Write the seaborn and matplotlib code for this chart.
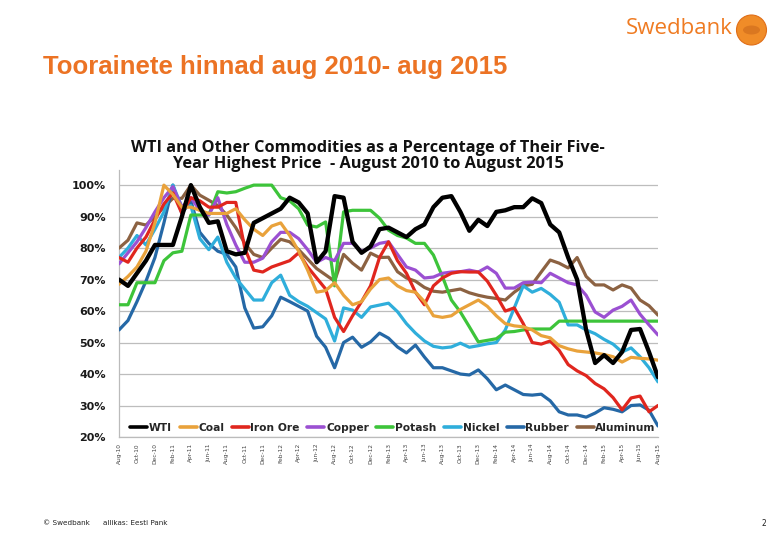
import numpy as np
import pandas as pd
import matplotlib
matplotlib.use("Agg")
import matplotlib.pyplot as plt
import seaborn as sns
from matplotlib.patches import Circle, Ellipse
from matplotlib.lines import Line2D

# ---------------- data (percent of five-year high, monthly Aug-10 .. Aug-15) ----------------
series_names = ["WTI", "Coal", "Iron Ore", "Copper", "Potash", "Nickel", "Rubber", "Aluminum"]

wti = [70, 68, 72, 76, 81, 81, 81, 90, 100, 93,
       88, 88.5, 79, 78, 78.5, 88, 89.5, 91, 92.5, 96,
       94.5, 91, 75.5, 79, 96.5, 96, 82, 78.5, 80.5, 86,
       86.5, 85, 83.5, 86, 87.5, 93, 96, 96.5, 91.5, 85.5,
       89, 87, 91.5, 92, 93, 93, 95.8, 94.3, 87.5, 85,
       77, 70, 54, 43.5, 46, 43.5, 47, 54, 54.3, 47,
       39]
coal = [68.5, 71, 74, 79, 88, 100, 97, 93, 93, 92,
        91, 91, 91, 92.5, 89, 86, 84, 87, 88, 84,
        79, 73, 66, 66.5, 69, 65, 62, 63, 67, 70,
        70.5, 68, 66.5, 66, 63, 58.5, 58, 58.5, 60.5, 62,
        63.5, 61.5, 58.5, 56, 55.3, 55, 54, 52.2, 51.5, 49,
        48, 47.3, 47, 46.7, 46.2, 45.5, 43.8, 45.3, 45, 44.8,
        44.4]
iron_ore = [77, 75.5, 80, 83.5, 89, 94, 97.5, 91, 96, 95,
            93, 93, 94.5, 94.5, 80, 73, 72.4, 74, 75, 76,
            78.5, 74, 70.5, 67, 58, 53.5, 58.5, 63, 68, 77,
            82, 76, 72, 66, 62, 68, 70.5, 72, 72.5, 72.4,
            72.4, 69.5, 65, 60, 61, 56, 50, 49.5, 50.5, 47.5,
            43, 41, 39.5, 37, 35.3, 32.5, 28.6, 32.4, 33, 28,
            30]
copper = [75, 78.5, 82, 86.5, 91.5, 96, 99.5, 93, 96, 92,
          90.5, 96, 87.5, 81, 75.5, 75.5, 76.8, 82, 85, 85,
          83, 79.5, 75.5, 77, 76, 81.5, 81.5, 79, 80, 81.5,
          82, 78, 74, 73, 70.5, 70.8, 72, 72.4, 72.5, 73,
          72.4, 74, 72, 67.3, 67.3, 69, 69.2, 69, 72, 70.5,
          69, 68.3, 65, 59.7, 58, 60.3, 61.5, 63.5, 59, 55.6,
          52.4]
potash = [62, 62, 69, 69, 69, 76, 78.5, 79, 90.5, 90.5,
          90.5, 97.9, 97.5, 97.9, 99, 100, 100, 100, 96, 95,
          92.5, 87.3, 86.7, 88.3, 68, 91.5, 92, 92, 92, 89.5,
          85.7, 84, 83.2, 81.5, 81.5, 77.8, 71, 63.5, 59.7, 55,
          50.2, 50.7, 51.2, 53.3, 53.5, 54, 54.3, 54.3, 54.3, 56.8,
          56.8, 56.8, 56.8, 56.8, 56.8, 56.8, 56.8, 56.8, 56.8, 56.8,
          56.8]
nickel = [77, 80, 84, 81, 86, 91.5, 100, 93, 93.5, 83,
          79.5, 83.5, 75.5, 70.5, 67, 63.5, 63.5, 69, 71.4, 65,
          63, 61.5, 59.5, 57.5, 50.5, 61, 60.3, 58, 61.3, 61.9,
          62.5, 59.8, 56, 53, 50.5, 48.8, 48.3, 48.6, 49.8, 48.5,
          49, 49.6, 50, 54, 61, 68, 66, 67.2, 65.3, 62.8,
          55.6, 55.6, 54, 52.8, 51, 49.5, 47, 48.3, 45.5, 42,
          37.5]
rubber = [54, 57, 63, 69.5, 77, 88, 100, 91, 95, 85,
          81.5, 79, 78, 74, 61, 54.6, 55, 58.5, 64.4, 63,
          61.5, 60, 52, 48.5, 42, 50, 51.7, 48.5, 50.2, 53,
          51.4, 48.6, 46.7, 49.2, 45.4, 42, 42, 41, 40, 39.7,
          41.3, 38.5, 35, 36.5, 35, 33.5, 33.3, 33.6, 31.5, 28,
          27, 27, 26.3, 27.6, 29.3, 28.8, 28, 30, 30.2, 28.5,
          23.5]
aluminum = [80, 82.5, 88, 87.3, 90, 93, 95.8, 95.8, 100, 96.8,
            95.2, 93.5, 90.5, 86.5, 81.5, 78, 77, 80, 82.8, 82,
            79.5, 76.5, 73.5, 71.5, 69.5, 78, 75.2, 73, 78.4, 77,
            77.1, 72.5, 70.5, 69.5, 67.5, 66.3, 66, 66.5, 67, 65.8,
            65, 64.4, 64, 63.5, 66, 68, 68.5, 72.4, 76.2, 75.2,
            73.7, 77, 71, 68.3, 68.3, 66.7, 68.3, 67.3, 63.5, 61.7,
            58.7]

tick_labels = ["Aug-10", "Oct-10", "Dec-10", "Feb-11", "Apr-11", "Jun-11", "Aug-11", "Oct-11",
               "Dec-11", "Feb-12", "Apr-12", "Jun-12", "Aug-12", "Oct-12", "Dec-12", "Feb-13",
               "Apr-13", "Jun-13", "Aug-13", "Oct-13", "Dec-13", "Feb-14", "Apr-14", "Jun-14",
               "Aug-14", "Oct-14", "Dec-14", "Feb-15", "Apr-15", "Jun-15", "Aug-15"]
y_ticks = [20, 30, 40, 50, 60, 70, 80, 90, 100]

values = [wti, coal, iron_ore, copper, potash, nickel, rubber, aluminum]
months = np.arange(len(wti))

palette = {"WTI": "#000000", "Coal": "#E9A23B", "Iron Ore": "#E0261E", "Copper": "#9B50D2",
           "Potash": "#3DC43A", "Nickel": "#2FAEDB", "Rubber": "#2568A6", "Aluminum": "#8C6242"}

df = pd.DataFrame({
    "month": np.tile(months, len(series_names)),
    "value": np.concatenate(values),
    "series": np.repeat(series_names, len(months)),
})

# ---------------- figure ----------------
sns.set_style("white")
plt.rcParams["font.family"] = ["DejaVu Sans"]

W, H = 780, 540
fig = plt.figure(figsize=(W / 100, H / 100), dpi=100)
fig.patch.set_facecolor("white")

x0, x1, ytop, ybot = 119, 658, 170, 437
ax = fig.add_axes([x0 / W, 1 - ybot / H, (x1 - x0) / W, (ybot - ytop) / H])

draw_order = ["Aluminum", "Rubber", "Nickel", "Potash", "Copper", "Iron Ore", "Coal", "WTI"]
for z, name in enumerate(draw_order):
    sub = df[df["series"] == name]
    sns.lineplot(data=sub, x="month", y="value", color=palette[name], ax=ax,
                 linewidth=3.1 if name == "WTI" else 2.3, sort=False, legend=False,
                 zorder=3 + z)

ax.set_xlim(0, 60)
ax.set_ylim(20, 104.8)
ax.set_xlabel("")
ax.set_ylabel("")
ax.set_yticks(y_ticks)
ax.set_yticklabels([f"{v}%" for v in y_ticks], fontsize=8, fontweight="bold", color="#1a1a1a")
ax.set_xticks(np.arange(0, 61, 2))
ax.set_xticklabels(tick_labels, rotation=90, fontsize=4.2, color="#444444")
ax.tick_params(axis="y", length=0, pad=9.5)
ax.tick_params(axis="x", length=3, width=0.6, color="#BBBBBB", pad=1.5, direction="out")
ax.yaxis.grid(True, color="#BDBDBD", linewidth=0.9, zorder=0)
ax.xaxis.grid(False)
for s in ["top", "right"]:
    ax.spines[s].set_visible(False)
ax.spines["left"].set_color("#BBBBBB")
ax.spines["left"].set_linewidth(0.9)
ax.spines["bottom"].set_color("#BBBBBB")
ax.spines["bottom"].set_linewidth(0.9)

handles = [Line2D([0], [0], color=palette[n], lw=2.6) for n in series_names]
leg = ax.legend(handles, series_names, ncol=8, loc="center",
                bbox_to_anchor=((393 - x0) / (x1 - x0), (ybot - 428) / (ybot - ytop)),
                frameon=False, handlelength=1.6, handletextpad=0.15, columnspacing=0.7,
                prop={"size": 7.7, "weight": "bold"})

# chart title
fig.text(368 / W, 1 - 148 / H, "WTI and Other Commodities as a Percentage of Their Five-",
         ha="center", va="center", fontsize=11.8, fontweight="bold", color="#111111",
         family="Open Sans")
fig.text(368 / W, 1 - 164.5 / H, "Year Highest Price  - August 2010 to August 2015",
         ha="center", va="center", fontsize=11.8, fontweight="bold", color="#111111",
         family="Open Sans")

# slide title
fig.text(43 / W, 1 - 67 / H, "Toorainete hinnad aug 2010- aug 2015", ha="left", va="center",
         fontsize=18.5, fontweight="bold", color="#EC7324", family="Liberation Sans")

# logo
fig.text(626 / W, 1 - 28 / H, "Swedbank", ha="left", va="center", fontsize=16,
         color="#EF7B22", family="Open Sans")
fig.patches.append(Circle((751.5 / 100, (H - 30) / 100), 0.15, transform=fig.dpi_scale_trans,
                          facecolor="#F08C28", edgecolor="#E06E18", lw=0.8))
fig.patches.append(Ellipse((751.5 / 100, (H - 30) / 100), 0.17, 0.09, transform=fig.dpi_scale_trans,
                           facecolor="#C9661A", edgecolor="none", alpha=0.55))

# footer
fig.text(43 / W, 1 - 523 / H, "© Swedbank", ha="left", va="center", fontsize=5.2, color="#222222")
fig.text(103 / W, 1 - 523 / H, "allikas: Eesti Pank", ha="left", va="center", fontsize=5.2, color="#222222")
fig.text(766 / W, 1 - 523 / H, "2", ha="right", va="center", fontsize=5.5, color="#222222")

fig.savefig("out.png", dpi=100, facecolor="white")
